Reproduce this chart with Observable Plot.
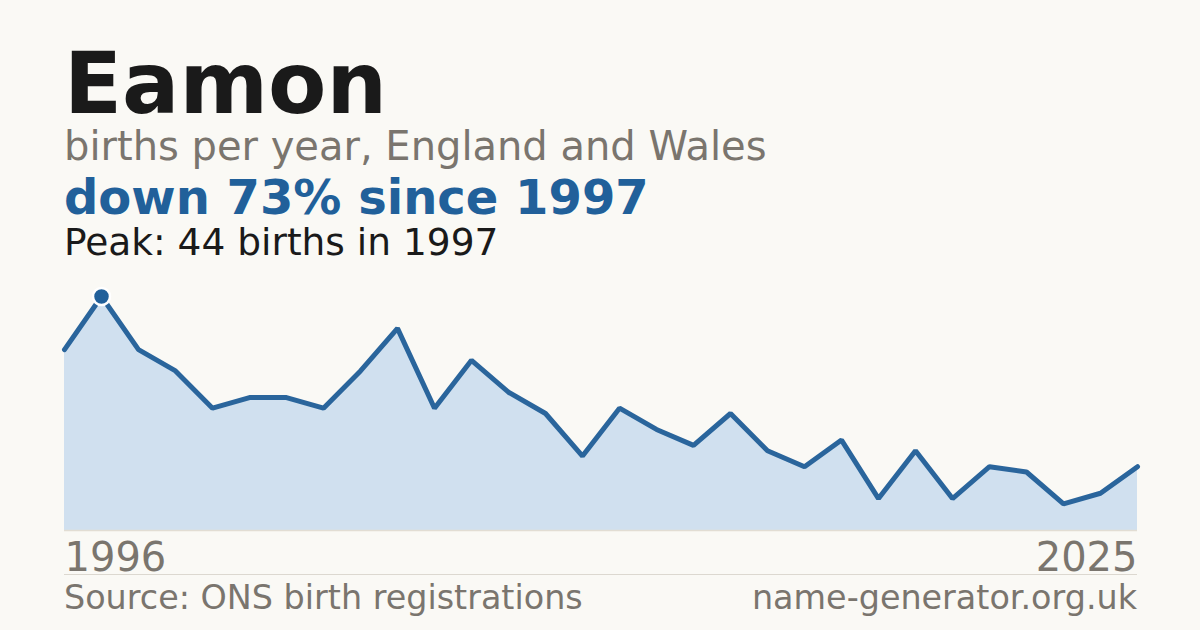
<!DOCTYPE html>
<html>
<head>
<meta charset="utf-8">
<script src="https://cdn.jsdelivr.net/npm/d3@7"></script>
<script src="https://cdn.jsdelivr.net/npm/@observablehq/plot@0.6"></script>
<style>
  html, body { margin: 0; padding: 0; background: #faf9f5; }
  #page { position: relative; width: 1200px; height: 630px; background: #faf9f5; overflow: hidden; font-family: "DejaVu Sans", sans-serif; }
  .t { position: absolute; left: 64px; line-height: 0.8; white-space: nowrap; }
  #title { top: 50px; font-size: 85px; font-weight: bold; color: #1a1a1a; }
  #sub { top: 130px; font-size: 40px; color: #7a756e; }
  #head { top: 178px; font-size: 48px; font-weight: bold; color: #21609a; }
  #peak { top: 227px; font-size: 37.5px; color: #1a1a1a; }
  #chart { position: absolute; left: 0; top: 280px; }
  #sep { position: absolute; left: 64px; width: 1073px; top: 574px; height: 1px; background: #dcd8d0; }
  #src { top: 585px; font-size: 33.4px; color: #7a756e; }
  #site { position: absolute; right: 63px; top: 585px; font-size: 33.4px; line-height: 0.8; color: #7a756e; white-space: nowrap; }
</style>
</head>
<body>
<div id="page">
  <div class="t" id="title">Eamon</div>
  <div class="t" id="sub">births per year, England and Wales</div>
  <div class="t" id="head">down 73% since 1997</div>
  <div class="t" id="peak">Peak: 44 births in 1997</div>
  <div id="chart"></div>
  <div id="sep"></div>
  <div class="t" id="src">Source: ONS birth registrations</div>
  <div id="site">name-generator.org.uk</div>
</div>
<script>
const years = [1996,1997,1998,1999,2000,2001,2002,2003,2004,2005,2006,2007,2008,2009,2010,2011,2012,2013,2014,2015,2016,2017,2018,2019,2020,2021,2022,2023,2024,2025];
const births = [34,44,34,30,23,25,25,23,30,38,23,32,26,22,14,23,19,16,22,15,12,17,6,15,6,12,11,5,7,12];
const peakYear = [1997];
const peakValue = [44];
const firstYear = [1996];
const lastYear = [2025];

const data = years.map((y, i) => ({year: y, births: births[i]}));
const peak = peakYear.map((y, i) => ({year: y, births: peakValue[i]}));

const blue = "#21609a";
const chart = Plot.plot({
  width: 1200,
  height: 300,
  marginLeft: 64,
  marginRight: 63,
  marginTop: 16,
  marginBottom: 50,
  style: { background: "transparent", fontFamily: "DejaVu Sans, sans-serif", overflow: "visible" },
  x: { domain: [years[0], years[years.length - 1]], axis: null },
  y: { domain: [0, 44], axis: null },
  marks: [
    Plot.areaY(data, { x: "year", y: "births", fill: "#d0e0ef" }),
    Plot.ruleY([0], { stroke: "#e2ddd3", strokeWidth: 1.5 }),
    Plot.lineY(data, { x: "year", y: "births", stroke: "#2a659c", strokeWidth: 5, strokeLinejoin: "miter" }),
    Plot.dot(peak, { x: "year", y: "births", r: 8.5, fill: blue, stroke: "white", strokeWidth: 2.5 }),
    Plot.axisX(firstYear, { tickSize: 0, tickPadding: 12, fontSize: 40, textAnchor: "start", fill: "#7a756e", tickFormat: d => String(d), label: null }),
    Plot.axisX(lastYear, { tickSize: 0, tickPadding: 12, fontSize: 40, textAnchor: "end", fill: "#7a756e", tickFormat: d => String(d), label: null })
  ]
});
document.getElementById("chart").appendChild(chart);
</script>
</body>
</html>
